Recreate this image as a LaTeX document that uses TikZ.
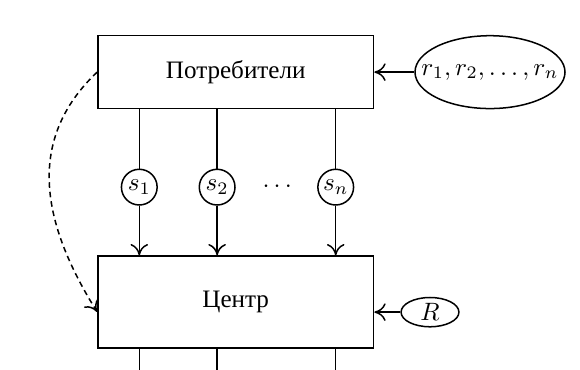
\documentclass[tikz,border=0pt]{standalone}
\usepackage{fontspec}
\usepackage{tikz}
\usetikzlibrary{arrows.meta,shapes.geometric}
\newfontfamily\rufont{Liberation Serif}

\begin{document}
\begin{tikzpicture}[
    line width=0.6pt,
    >={To[length=4.5pt,width=7pt]},
    box/.style={draw, minimum width=3.86cm, inner sep=0pt, font=\rufont},
    sig/.style={draw, circle, minimum size=0.5cm, inner sep=0pt},
    src/.style={draw, ellipse, inner sep=0pt}
]
\useasboundingbox (0,0) rectangle (8.12,-5.18);

\node[box, minimum height=1.02cm] (potr) at (3.30,-1.01) {Потребители};
\node[box, minimum height=1.29cm] (ctr) at (3.30,-4.23) {Центр};

\node[src, minimum width=2.10cm, minimum height=1.02cm] (rr) at (6.86,-1.01)
    {\makebox[0pt]{$r_1, r_2, \ldots, r_n$}};
\node[src, minimum width=0.81cm, minimum height=0.41cm] (R) at (6.02,-4.37) {$R$};

% signals s_1 ... s_n
\foreach \i/\x in {1/1.95, 2/3.04, n/4.70} {
    \node[sig] (s\i) at (\x,-2.62) {$s_\i$};
    \coordinate (e\i) at (\x,-5.18);
    \draw (s\i |- potr.south) -- (s\i);
    \draw[->] (s\i) -- (s\i |- ctr.north);
    \draw (s\i |- ctr.south) -- (e\i);
}
\node (dots) at (3.88,-2.62) {$\cdots$};

\draw[->] (rr) -- (potr);
\draw[->] (R) -- (R -| ctr.east);
\draw[->, dash pattern=on 2.2pt off 1.6pt]
    (potr.west) .. controls +(-1.0,-0.95) and +(-0.78,1.25) .. (ctr.184);

\end{tikzpicture}
\end{document}
